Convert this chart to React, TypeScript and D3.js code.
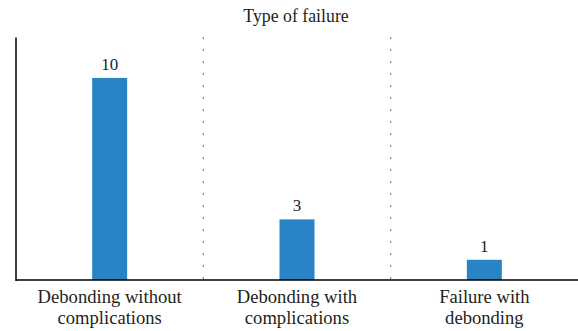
import React from "react";
import * as d3 from "d3";

const categories: string[][] = [
  ["Debonding without", "complications"],
  ["Debonding with", "complications"],
  ["Failure with", "debonding"],
];
const counts: number[] = [10, 3, 1];
const title = "Type of failure";

const W = 578;
const H = 331;
const margin = { top: 37.5, right: 0, bottom: 51, left: 16 };
const FONT = "Liberation Serif, DejaVu Serif, serif";
const INK = "#231f20";

export default function App() {
  const keys = categories.map((c) => c.join(" "));
  const x = d3
    .scaleBand<string>()
    .domain(keys)
    .range([margin.left, W - margin.right])
    .paddingInner(0)
    .paddingOuter(0);
  const y = d3
    .scaleLinear()
    .domain([0, 12])
    .range([H - margin.bottom, margin.top]);
  const barW = 35;
  const base = y(0);

  return (
    <svg
      width={W}
      height={H}
      style={{ position: "absolute", left: 0, top: 0, background: "#fff", fontFamily: FONT }}
    >
      <text x={296} y={22} textAnchor="middle" fontSize={17.8} fill={INK} style={{ fontFamily: FONT }}>
        {title}
      </text>
      {keys.slice(1).map((k) => (
        <line
          key={k}
          x1={x(k)!}
          x2={x(k)!}
          y1={margin.top}
          y2={base}
          stroke={INK}
          strokeWidth={1}
          strokeDasharray="1.2 10.8"
        />
      ))}
      {keys.map((k, i) => {
        const cx = x(k)! + x.bandwidth() / 2;
        return (
          <g key={k}>
            <rect
              x={cx - barW / 2}
              y={y(counts[i])}
              width={barW}
              height={base - y(counts[i])}
              fill="#2a83c4"
            />
            <text
              x={cx}
              y={y(counts[i]) - 8}
              textAnchor="middle"
              fontSize={17}
              fill={INK}
              style={{ fontFamily: FONT }}
            >
              {counts[i]}
            </text>
            {categories[i].map((line, j) => (
              <text
                key={j}
                x={cx}
                y={303 + j * 21}
                textAnchor="middle"
                fontSize={18.6}
                fill={INK}
                style={{ fontFamily: FONT }}
              >
                {line}
              </text>
            ))}
          </g>
        );
      })}
      <line x1={margin.left} x2={margin.left} y1={margin.top} y2={base + 1} stroke="#000" strokeWidth={1.5} />
      <line x1={margin.left} x2={W} y1={base} y2={base} stroke="#000" strokeWidth={1.5} />
    </svg>
  );
}
